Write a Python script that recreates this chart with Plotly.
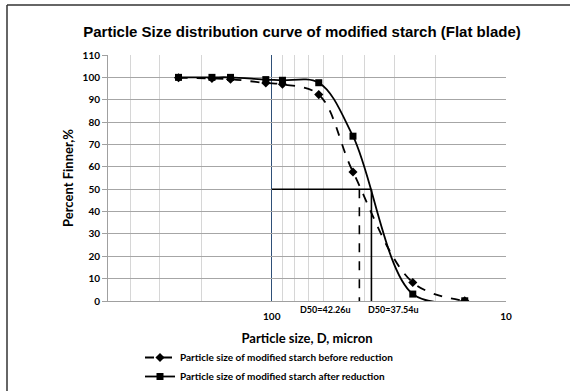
import plotly.graph_objects as go

# Data
sizes = [250, 180, 150, 106, 90, 63, 45, 25, 15]
before = [99.8, 99.5, 99.2, 97.5, 96.9, 92.3, 57.7, 8.3, 0.1]
after = [100.0, 100.0, 100.0, 99.0, 98.7, 97.6, 73.7, 3.1, 0.1]
d50_before = 42.26
d50_after = 37.54
y_ticks = list(range(0, 111, 10))
x_major = [100, 10]
x_minor = [400, 300, 200, 90, 80, 70, 60, 50, 40, 30, 20]

L, R, T, B = 108, 64, 55, 90
W, H = 570, 391
pw, ph = W - L - R, H - T - B

fig = go.Figure()
fig.add_trace(go.Scatter(
    x=sizes, y=before, mode="lines+markers", line_shape="spline",
    line=dict(color="black", width=1.8, dash="dash"),
    marker=dict(symbol="diamond", size=7, color="black"),
    name="Particle size of modified starch before reduction"))
fig.add_trace(go.Scatter(
    x=sizes, y=after, mode="lines+markers", line_shape="spline",
    line=dict(color="black", width=1.8),
    marker=dict(symbol="square", size=7, color="black"),
    name="Particle size of modified starch after reduction"))
# D50 guide lines
fig.add_trace(go.Scatter(x=[100, d50_after], y=[50, 50], mode="lines",
                         line=dict(color="black", width=1.6), showlegend=False, hoverinfo="skip"))
fig.add_trace(go.Scatter(x=[d50_after, d50_after], y=[50, 0], mode="lines",
                         line=dict(color="black", width=1.6), showlegend=False, hoverinfo="skip"))
fig.add_trace(go.Scatter(x=[d50_before, d50_before], y=[50, 0], mode="lines",
                         line=dict(color="black", width=1.6, dash="dash"), showlegend=False, hoverinfo="skip"))

fig.add_annotation(x=1.626, y=0, xref="x", yref="y", text="<b>D50=%.2fu</b>" % d50_before,
                   showarrow=False, yanchor="top", xanchor="right", yshift=-1, xshift=-6,
                   font=dict(size=9, family="Lato", color="black"))
fig.add_annotation(x=1.5745, y=0, xref="x", yref="y", text="<b>D50=%.2fu</b>" % d50_after,
                   showarrow=False, yanchor="top", xanchor="left", yshift=-1, xshift=-5,
                   font=dict(size=9, family="Lato", color="black"))

# outer frame (left and top)
fig.add_shape(type="line", xref="paper", yref="paper",
              x0=(7 - L) / pw, x1=(7 - L) / pw, y0=1 + (T - 5) / ph, y1=-(B + 5) / ph,
              line=dict(color="#333333", width=1.5))
fig.add_shape(type="line", xref="paper", yref="paper",
              x0=(7 - L) / pw, x1=(W + 5 - L) / pw, y0=1 + (T - 5) / ph, y1=1 + (T - 5) / ph,
              line=dict(color="#333333", width=1.5))

fig.update_layout(
    width=W, height=H, margin=dict(l=L, r=R, t=T, b=B, autoexpand=False),
    paper_bgcolor="white", plot_bgcolor="white",
    title=dict(text="<b>Particle Size distribution curve of modified starch (Flat blade)</b>",
               x=(302) / W, xanchor="center", y=1 - 32 / H, yanchor="middle",
               font=dict(family="Liberation Sans", size=15, color="black")),
    xaxis=dict(type="log", range=[2.699, 1], tickvals=x_major, ticktext=["100", "10"],
               showgrid=True, gridcolor="#2F5078", gridwidth=1.2,
               minor=dict(tickvals=x_minor, showgrid=True, gridcolor="#D6D6D6", gridwidth=1, ticks=""),
               showline=True, linecolor="#A0A0A0", linewidth=1, ticks="", zeroline=False,
               ticklabelstandoff=6,
               tickfont=dict(family="Lato", size=10, color="black", weight="bold"),
               title=dict(text="<b>Particle size, D, micron</b>", standoff=12,
                          font=dict(family="Lato", size=13, color="black"))),
    yaxis=dict(range=[0, 110], tickvals=y_ticks, showgrid=True, gridcolor="#A6A6A6", gridwidth=1,
               showline=True, linecolor="#A0A0A0", linewidth=1, ticks="outside", ticklen=5,
               tickcolor="#A0A0A0", zeroline=False,
               tickfont=dict(family="Lato", size=10, color="black", weight="bold"),
               title=dict(text="<b>Percent Finner,%</b>", standoff=6,
                          font=dict(family="Lato", size=13, color="black"))),
    legend=dict(x=(140 - L) / pw, xanchor="left", yanchor="top",
                orientation="v", bgcolor="rgba(0,0,0,0)", tracegroupgap=0,
                font=dict(family="Lato", size=10, color="black", weight="bold"), itemwidth=30),
    showlegend=True,
)
fig.update_layout(legend_y=-(343 - (T + ph)) / ph)
fig.write_html("out.html")
